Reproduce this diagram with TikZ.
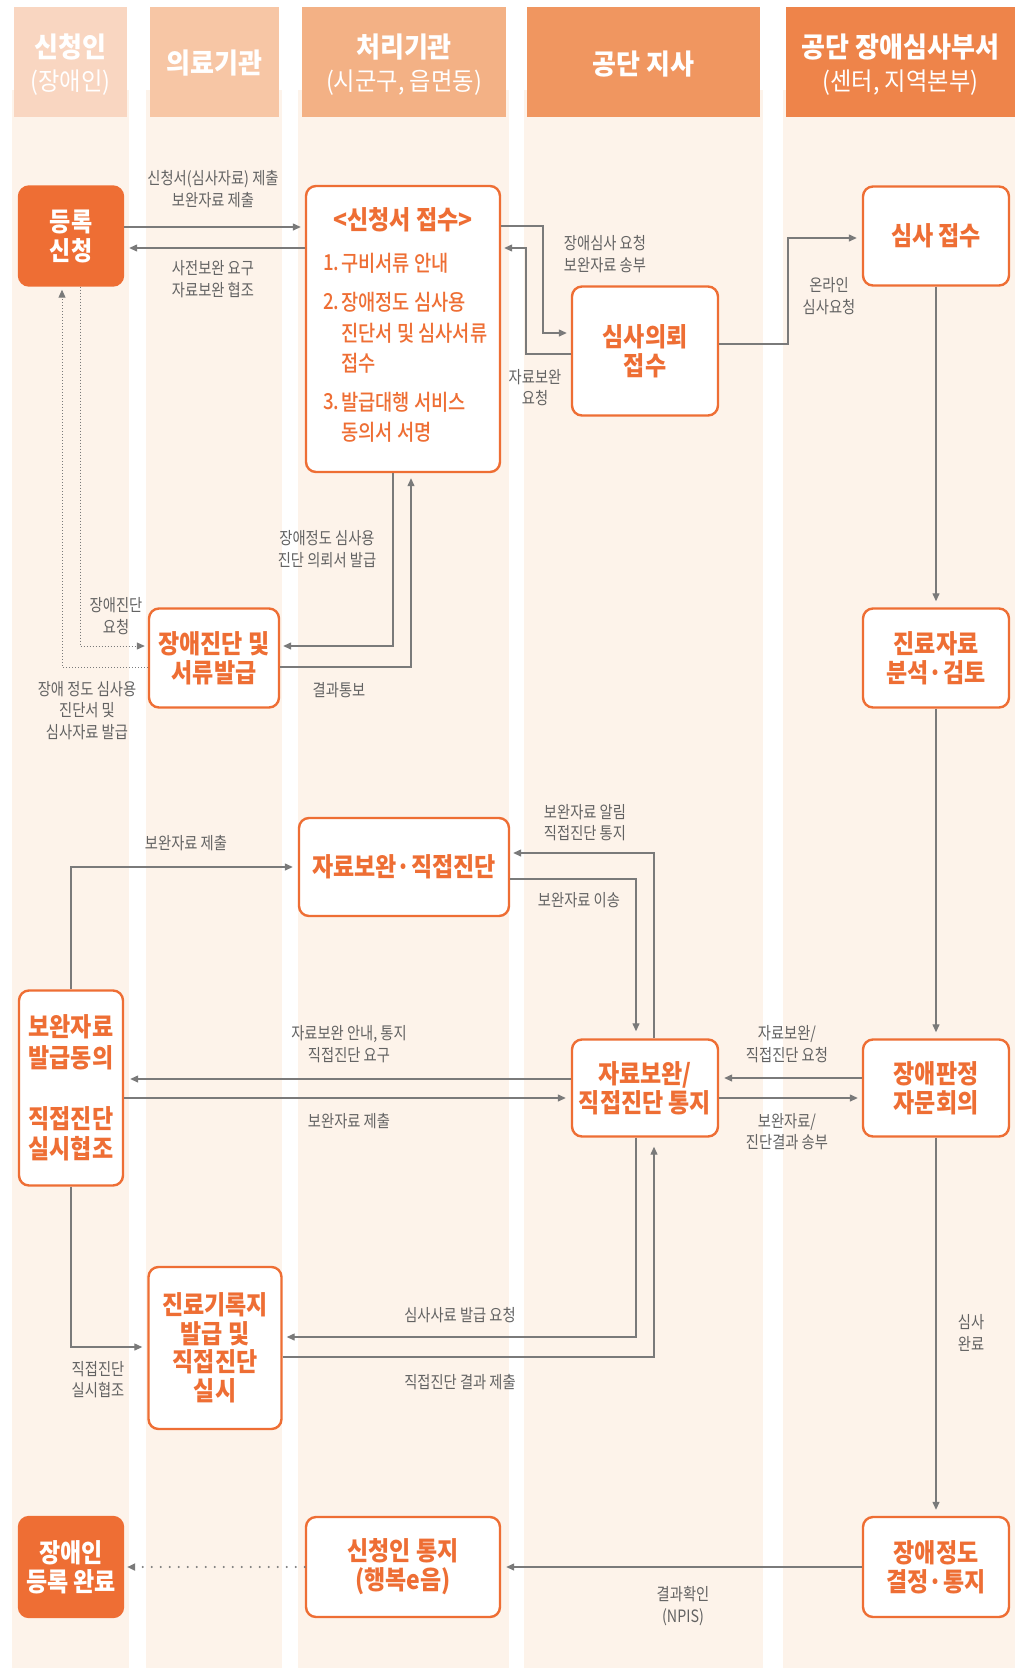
\documentclass[tikz,border=0pt]{standalone}
\usepackage{fontspec}
\setmainfont{Noto Sans CJK KR}[FakeStretch=0.88]
\newfontfamily\ttlfont{Noto Sans CJK KR Black}[FakeStretch=0.885]
\newfontfamily\hdrfont{Noto Sans CJK KR Black}[FakeStretch=0.93]
\newfontfamily\hdrlight{Noto Sans CJK KR}[FakeStretch=0.93]
\newfontfamily\lstfont{Noto Sans CJK KR Medium}[FakeStretch=0.85]
\newfontfamily\lblfont{Noto Sans CJK KR}[FakeStretch=0.84]
\usetikzlibrary{arrows.meta}
\definecolor{myor}{RGB}{238,110,52}
\definecolor{lanebg}{RGB}{253,243,234}
\definecolor{hA}{RGB}{249,214,193}
\definecolor{hB}{RGB}{247,198,165}
\definecolor{hC}{RGB}{243,177,133}
\definecolor{hD}{RGB}{240,150,96}
\definecolor{hE}{RGB}{238,132,74}
\definecolor{lgray}{RGB}{122,122,122}
\definecolor{tgray}{RGB}{98,98,98}
\tikzset{
  procbox/.style={draw=myor, line width=2.4pt, rounded corners=10pt, fill=white, inner sep=0pt, align=center, text=myor, font=\ttlfont\fontsize{26}{29}\selectfont},
  filledbox/.style={procbox, fill=myor, text=white},
  lbl/.style={text=tgray, align=center, inner sep=0pt, font=\lblfont\fontsize{17}{21.5}\selectfont},
  hdr/.style={text=white, align=center, inner sep=0pt, font=\hdrfont\fontsize{28}{33}\selectfont},
  lst/.style={text=myor, anchor=west, inner sep=0pt, font=\lstfont\fontsize{22}{30}\selectfont},
  conn/.style={draw=lgray, line width=1.3pt, -{Triangle[length=8pt,width=7pt]}},
  dotconn/.style={conn, line width=1pt, dash pattern=on 1pt off 2pt},
  bigdot/.style={conn, line width=2.2pt, line cap=round, dash pattern=on 0pt off 9pt},
}
\begin{document}
\begin{tikzpicture}[x=1pt,y=-1pt]
\useasboundingbox (0,0) rectangle (1015,1668);
\fill[white] (0,0) rectangle (1015,1668);
% lanes
\fill[lanebg] (12,90) rectangle (129,1668);
\fill[lanebg] (146,90) rectangle (282,1668);
\fill[lanebg] (298,90) rectangle (509,1668);
\fill[lanebg] (524,90) rectangle (763,1668);
\fill[lanebg] (783,90) rectangle (1015,1668);
% headers
\fill[hA] (14,7) rectangle (127,117);
\fill[hB] (150,7) rectangle (279,117);
\fill[hC] (302,7) rectangle (506,117);
\fill[hD] (527,7) rectangle (760,117);
\fill[hE] (786,7) rectangle (1015,117);
\node[hdr] (t1) at (70.5,64.5) {신청인\\{\hdrlight\fontsize{25}{33}\selectfont (장애인)}};
\node[hdr] (t2) at (214.5,63) {의료기관};
\node[hdr] (t3) at (404,64.5) {처리기관\\{\hdrlight\fontsize{25}{33}\selectfont (시군구, 읍면동)}};
\node[hdr] (t4) at (643.5,64) {공단 지사};
\node[hdr] (t5) at (900.5,64.5) {공단 장애심사부서\\{\hdrlight\fontsize{25}{33}\selectfont (센터, 지역본부)}};

% nodes
\node[filledbox, minimum width=104pt, minimum height=99pt] (reg) at (71,236) {등록\\신청};
\node[procbox, minimum width=194pt, minimum height=286pt] (rcv) at (403,329) {};
\node[procbox, draw=none, fill=none] (rcvt) at (403,220) {<신청서 접수>};
\node[lst] (n1) at (323,263) {1.};
\node[lst] (i1) at (341,263) {구비서류 안내};
\node[lst] (n2) at (323,302) {2.};
\node[lst] (i2) at (341,302) {장애정도 심사용};
\node[lst] (i2b) at (341,333) {진단서 및 심사서류};
\node[lst] (i2c) at (341,363) {접수};
\node[lst] (n3) at (323,402) {3.};
\node[lst] (i3) at (341,402) {발급대행 서비스};
\node[lst] (i3b) at (341,432) {동의서 서명};

\node[procbox, minimum width=146pt, minimum height=129pt] (req) at (645,351) {심사의뢰\\접수};
\node[procbox, minimum width=146pt, minimum height=99pt] (exam) at (936,236) {심사 접수};
\node[procbox, minimum width=130pt, minimum height=99pt] (diag) at (214,658) {장애진단 및\\서류발급};
\node[procbox, minimum width=146pt, minimum height=99pt] (anal) at (936,658) {진료자료\\분석·검토};
\node[procbox, minimum width=210pt, minimum height=98pt] (supp) at (404,867) {자료보완·직접진단};
\node[procbox, minimum width=104pt, minimum height=195pt, font=\ttlfont\fontsize{26}{30.5}\selectfont] (consent) at (71,1088) {보완자료\\발급동의\\[30.5pt]직접진단\\실시협조};
\node[procbox, minimum width=146pt, minimum height=97pt] (notice) at (645,1088) {자료보완/\\직접진단 통지};
\node[procbox, minimum width=146pt, minimum height=97pt] (comm) at (936,1088) {장애판정\\자문회의};
\node[procbox, minimum width=133pt, minimum height=162pt, font=\ttlfont\fontsize{26}{28.5}\selectfont] (rec) at (215,1348) {진료기록지\\발급 및\\직접진단\\실시};
\node[filledbox, minimum width=104pt, minimum height=100pt] (done) at (71,1567) {장애인\\등록 완료};
\node[procbox, minimum width=194pt, minimum height=100pt] (appnot) at (403,1567) {신청인 통지\\(행복e음)};
\node[procbox, minimum width=146pt, minimum height=100pt] (decide) at (936,1567) {장애정도\\결정·통지};

% connectors
\draw[conn, shorten >=4pt] (reg.east |- 0,227) -- (rcv.west |- 0,227);
\draw[conn, shorten >=5pt] (rcv.west |- 0,248) -- (reg.east |- 0,248);
\draw[conn, shorten >=4pt] (rcv.east |- 0,226) -| (543,333) -- (req.west |- 0,333);
\draw[conn, shorten >=3pt] (req.west |- 0,354) -| (526,248) -- (rcv.east |- 0,248);
\draw[conn, shorten >=5pt] (req.east |- 0,344) -| (788,238) -- (exam.west |- 0,238);
\draw[conn, shorten >=6pt] (exam.south) -- (anal.north);
\draw[conn, shorten >=6pt] (anal.south) -- (comm.north);
\draw[conn, shorten >=6pt] (comm.south) -- (decide.north);
\draw[conn, shorten >=3pt] (rcv.south -| 393,0) |- (diag.east |- 0,646);
\draw[conn, shorten >=5pt] (diag.east |- 0,667) -| (rcv.south -| 411,0);
\draw[dotconn, shorten >=3pt] (reg.south -| 80,0) |- (diag.west |- 0,646);
\draw[dotconn, shorten >=3pt] (diag.west |- 0,667) -| (reg.south -| 62,0);
\draw[conn, shorten >=5pt] (consent.north) |- (supp.west |- 0,867);
\draw[conn, shorten >=7pt] (supp.east |- 0,879) -| (notice.north -| 636,0);
\draw[conn, shorten >=3pt] (notice.north -| 654,0) |- (supp.east |- 0,853);
\draw[conn, shorten >=6pt] (notice.west |- 0,1079) -- (consent.east |- 0,1079);
\draw[conn, shorten >=5pt] (consent.east |- 0,1098) -- (notice.west |- 0,1098);
\draw[conn, shorten >=5pt] (comm.west |- 0,1078) -- (notice.east |- 0,1078);
\draw[conn, shorten >=4pt] (notice.east |- 0,1098) -- (comm.west |- 0,1098);
\draw[conn, shorten >=5pt] (consent.south) |- (rec.west |- 0,1347);
\draw[conn, shorten >=4pt] (notice.south -| 636,0) |- (rec.east |- 0,1337);
\draw[conn, shorten >=9pt] (rec.east |- 0,1357) -| (notice.south -| 654,0);
\draw[conn, shorten >=5pt] (decide.west) -- (appnot.east);
\draw[bigdot, shorten >=3pt] (appnot.west) -- (done.east);

% labels
\node[lbl] (l1) at (213,189) {신청서(심사자료) 제출\\보완자료 제출};
\node[lbl] (l2) at (213,279) {사전보완 요구\\자료보완 협조};
\node[lbl] (l3) at (605,254) {장애심사 요청\\보완자료 송부};
\node[lbl] (l4) at (535,387.5) {자료보완\\요청};
\node[lbl] (l5) at (829,296) {온라인\\심사요청};
\node[lbl] (l6) at (327,549) {장애정도 심사용\\진단 의뢰서 발급};
\node[lbl] (l7) at (339,690) {결과통보};
\node[lbl] (l8) at (116,616) {장애진단\\요청};
\node[lbl] (l9) at (87,710.5) {장애 정도 심사용\\진단서 및\\심사자료 발급};
\node[lbl] (l10) at (186,843) {보완자료 제출};
\node[lbl] (l11) at (585,822.5) {보완자료 알림\\직접진단 통지};
\node[lbl] (l12) at (579,900) {보완자료 이송};
\node[lbl] (l13) at (349,1044) {자료보완 안내, 통지\\직접진단 요구};
\node[lbl] (l14) at (349,1121) {보완자료 제출};
\node[lbl] (l15) at (787,1044) {자료보완/\\직접진단 요청};
\node[lbl] (l16) at (787,1131.5) {보완자료/\\진단결과 송부};
\node[lbl] (l17) at (98,1379.5) {직접진단\\실시협조};
\node[lbl] (l18) at (460,1315) {심사사료 발급 요청};
\node[lbl] (l19) at (460,1382) {직접진단 결과 제출};
\node[lbl] (l20) at (971,1333) {심사\\완료};
\node[lbl] (l21) at (683,1606) {결과확인\\(NPIS)};
\end{tikzpicture}
\end{document}
